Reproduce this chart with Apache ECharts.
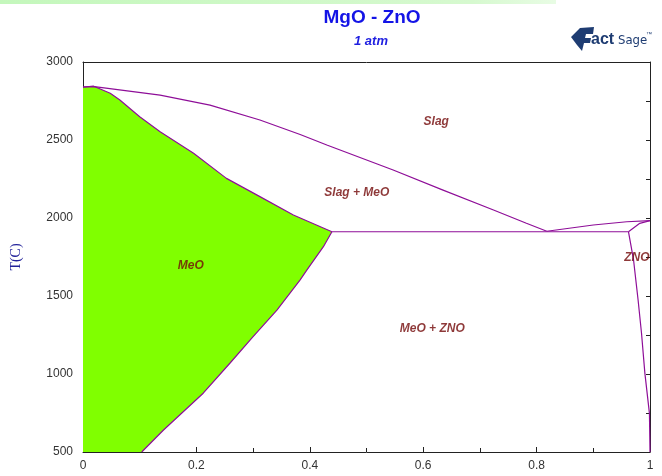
<!DOCTYPE html>
<html>
<head>
<meta charset="utf-8">
<script src="https://cdn.jsdelivr.net/npm/echarts@6.0.0/dist/echarts.min.js"></script>
<style>
  html, body { margin: 0; padding: 0; background: #fff; }
  #chart { width: 662px; height: 476px; }
</style>
</head>
<body>
<div id="chart"></div>
<script>
// MgO - ZnO phase diagram at 1 atm (x = mole fraction ZnO, T in degrees C)

// Liquidus on the MgO side, down to the eutectic
const liquidusMgO = [[0, 2840], [0.02, 2842], [0.136, 2788], [0.224, 2724], [0.312, 2628],
  [0.383, 2535], [0.43, 2468], [0.547, 2308], [0.635, 2179], [0.724, 2051],
  [0.782, 1966], [0.818, 1915]];
// Liquidus on the ZnO side
const liquidusZnO = [[0.818, 1915], [0.9, 1955], [0.959, 1976], [1.0, 1983]];
// Eutectic isotherm
const eutectic = [[0.439, 1912], [0.962, 1912]];
// Solidus and solvus of the MeO (rock salt) solid solution
const solidusMgO = [[0, 2838], [0.018, 2846], [0.048, 2800], [0.065, 2756], [0.1, 2649],
  [0.136, 2553], [0.195, 2415], [0.253, 2254], [0.312, 2137], [0.371, 2019], [0.439, 1912]];
const solvusMgO = [[0.439, 1912], [0.424, 1816], [0.395, 1667], [0.383, 1603], [0.342, 1410],
  [0.300, 1239], [0.259, 1069], [0.212, 877], [0.142, 641], [0.1035, 500]];
// Solidus and solvus of the ZnO (wurtzite) solid solution
const solidusZnO = [[0.962, 1912], [0.982, 1966], [1.0, 1983]];
const solvusZnO = [[0.962, 1912], [0.971, 1731], [0.979, 1474], [0.985, 1263],
  [0.991, 1004], [0.999, 748], [1.0, 500]];

// Phase field names and where they sit
const regionNames = ['Slag', 'Slag + MeO', 'MeO', 'MeO + ZNO', 'ZNO'];
const regionX = [0.623, 0.483, 0.190, 0.616, 0.977];
const regionT = [2615, 2160, 1692, 1288, 1744];

// Axis ranges and ticks
const xTicks = { min: 0, max: 1, step: 0.2 };
const yTicks = { min: 500, max: 3000, step: 500 };

const meoField = solidusMgO.concat(solvusMgO.slice(1), [[0, 500]]);

const lineColor = '#8E0E98';
const labelColor = '#720808';

const chart = echarts.init(document.getElementById('chart'), null, { renderer: 'canvas' });

const lineSeries = (data) => ({
  type: 'line', data: data, showSymbol: false, symbol: 'none', silent: true,
  lineStyle: { color: lineColor, width: 1.2 }, z: 3, animation: false
});

chart.setOption({
  animation: false,
  backgroundColor: '#ffffff',
  title: [
    { text: 'MgO - ZnO', left: 367, top: 3, textAlign: 'center',
      textStyle: { color: '#1414E6', fontSize: 19, fontWeight: 'bold', fontFamily: 'Liberation Sans, Arial, sans-serif' } },
    { text: '1 atm', left: 366, top: 30, textAlign: 'center',
      textStyle: { color: '#1E1EE0', fontSize: 13, fontStyle: 'italic', fontWeight: 'bold', fontFamily: 'Liberation Sans, Arial, sans-serif' } }
  ],
  graphic: [
    { type: 'rect', left: 0, top: 0, shape: { width: 556, height: 4 }, silent: true,
      style: { fill: new echarts.graphic.LinearGradient(0, 0, 1, 0, [
        { offset: 0, color: '#c4f7bc' }, { offset: 0.85, color: '#d6f9cf' }, { offset: 1, color: '#e8fce4' }]) } },
    { type: 'group', left: 571, top: 27, silent: true, children: [
      { type: 'polygon', shape: { points: [[0, 11], [9, 2], [23, 1], [22, 8], [15, 8], [14, 12], [20, 12], [19, 17], [13, 17], [11, 25], [6, 19]] },
        style: { fill: '#1E3C72' } },
      { type: 'text', x: 20, y: 6, style: { text: 'act', fill: '#1E3C72', font: 'bold 16px "Liberation Sans", Arial, sans-serif' } },
      { type: 'text', x: 47, y: 8, style: { text: 'Sage', fill: '#1E3C72', font: '13px "DejaVu Sans Condensed", "Liberation Sans", Arial, sans-serif' } },
      { type: 'text', x: 75, y: 5, style: { text: '™', fill: '#1E3C72', font: '6px "Liberation Sans", Arial, sans-serif' } }
    ] }
  ],
  grid: { left: 83, right: 12, top: 62, bottom: 24, containLabel: false },
  xAxis: [
    { type: 'value', min: xTicks.min, max: xTicks.max, interval: xTicks.step, position: 'bottom',
      axisLine: { lineStyle: { color: '#222', width: 1 } },
      axisTick: { inside: true, length: 5, lineStyle: { color: '#222' } },
      minorTick: { show: true, splitNumber: 2, length: 4, lineStyle: { color: '#222' } },
      axisLabel: { color: '#333', fontSize: 12, margin: 8, fontFamily: 'Liberation Sans, Arial, sans-serif',
        formatter: v => (v === 0 || v === 1) ? String(v) : v.toFixed(1) },
      splitLine: { show: false } },
    { type: 'value', min: xTicks.min, max: xTicks.max, position: 'top',
      axisLine: { show: true, onZero: false, lineStyle: { color: '#222', width: 1 } },
      axisTick: { show: false }, axisLabel: { show: false }, splitLine: { show: false } }
  ],
  yAxis: [
    { type: 'value', min: yTicks.min, max: yTicks.max, interval: yTicks.step, position: 'left',
      name: 'T(C)', nameLocation: 'middle', nameGap: 60, nameRotate: 90,
      nameTextStyle: { color: '#22229A', fontSize: 14, fontFamily: 'Liberation Serif, DejaVu Serif, serif' },
      axisLine: { show: true, lineStyle: { color: '#222', width: 1 } },
      axisTick: { inside: true, length: 5, lineStyle: { color: '#222' } },
      minorTick: { show: true, splitNumber: 2, length: 4, lineStyle: { color: '#222' } },
      axisLabel: { color: '#333', fontSize: 12, margin: 10, fontFamily: 'Liberation Sans, Arial, sans-serif',
        formatter: v => String(v) },
      splitLine: { show: false } },
    { type: 'value', min: yTicks.min, max: yTicks.max, interval: 250, position: 'right',
      axisLine: { show: true, onZero: false, lineStyle: { color: '#222', width: 1 } },
      axisTick: { inside: true, length: 4, lineStyle: { color: '#222' } },
      axisLabel: { show: false }, splitLine: { show: false } }
  ],
  series: [
    { type: 'custom', data: meoField, silent: true, z: 1,
      renderItem: (params, api) => {
        if (params.dataIndex !== 0) return null;
        return { type: 'polygon', shape: { points: meoField.map(p => api.coord(p)) },
          style: { fill: '#80FF00' } };
      } },
    lineSeries(liquidusMgO),
    lineSeries(liquidusZnO),
    lineSeries(eutectic),
    lineSeries(solidusMgO),
    lineSeries(solvusMgO),
    lineSeries(solidusZnO),
    lineSeries(solvusZnO),
    { type: 'scatter', symbolSize: 0, silent: true, z: 5,
      data: regionNames.map((n, i) => ({ name: n, value: [regionX[i], regionT[i]] })),
      label: { show: true, position: 'inside', formatter: '{b}', color: labelColor,
        fontSize: 12, fontStyle: 'italic', fontWeight: 'bold', fontFamily: 'Liberation Sans, Arial, sans-serif' } }
  ]
});
</script>
</body>
</html>
